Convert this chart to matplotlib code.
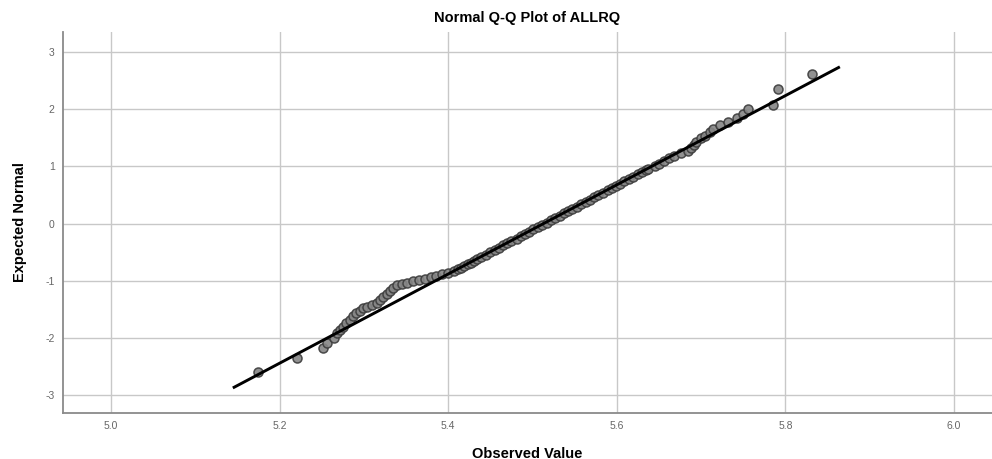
import matplotlib
matplotlib.use("Agg")
from matplotlib import pyplot as plt

observed = [5.174, 5.221, 5.251, 5.256, 5.264, 5.268, 5.271, 5.275, 5.279, 5.283,
            5.287, 5.291, 5.295, 5.299, 5.304, 5.309, 5.315, 5.319, 5.323, 5.327,
            5.331, 5.335, 5.339, 5.345, 5.351, 5.358, 5.365, 5.372, 5.379, 5.386,
            5.393, 5.400,
            5.407, 5.411, 5.415, 5.419, 5.423, 5.427, 5.430, 5.434, 5.439, 5.445,
            5.450, 5.455, 5.460, 5.465, 5.470, 5.475, 5.481, 5.486, 5.491, 5.496,
            5.501, 5.506, 5.511, 5.517, 5.522, 5.527, 5.532, 5.537, 5.542, 5.547,
            5.553, 5.558, 5.563, 5.568, 5.573, 5.578, 5.583, 5.589, 5.594, 5.599,
            5.604, 5.609, 5.614, 5.619, 5.625, 5.630, 5.634, 5.637, 5.645, 5.650,
            5.656, 5.662, 5.668, 5.676, 5.684, 5.688, 5.691, 5.694, 5.700, 5.705,
            5.710, 5.714, 5.722, 5.732, 5.742, 5.750, 5.756, 5.785, 5.791, 5.832]
expected = [-2.60, -2.34, -2.17, -2.09, -1.99, -1.92, -1.86, -1.80, -1.74, -1.68,
            -1.62, -1.57, -1.52, -1.48, -1.45, -1.42, -1.39, -1.34, -1.28, -1.23,
            -1.17, -1.12, -1.08, -1.05, -1.03, -1.01, -0.99, -0.97, -0.94, -0.91,
            -0.88, -0.86,
            -0.83, -0.80, -0.77, -0.74, -0.71, -0.68, -0.65, -0.62, -0.58, -0.54,
            -0.50, -0.46, -0.42, -0.38, -0.34, -0.30, -0.26, -0.22, -0.18, -0.14,
            -0.10, -0.06, -0.02, 0.02, 0.06, 0.10, 0.14, 0.18, 0.22, 0.26,
            0.30, 0.34, 0.38, 0.42, 0.46, 0.50, 0.54, 0.58, 0.62, 0.66,
            0.70, 0.74, 0.78, 0.82, 0.86, 0.90, 0.93, 0.96, 1.01, 1.05,
            1.09, 1.14, 1.19, 1.23, 1.27, 1.33, 1.38, 1.43, 1.49, 1.54,
            1.60, 1.66, 1.72, 1.78, 1.84, 1.92, 2.00, 2.07, 2.36, 2.61]

# reference line end points
line_x = [5.146, 5.863]
line_y = [-2.86, 2.73]

x_ticks = [5.0, 5.2, 5.4, 5.6, 5.8, 6.0]
y_ticks = [-3, -2, -1, 0, 1, 2, 3]

plt.rcParams['font.family'] = ['Liberation Sans', 'DejaVu Sans']
plt.rcParams['axes.unicode_minus'] = False

fig = plt.figure(figsize=(9.92, 4.59), dpi=100)
ax = fig.add_axes([0.0635, 0.1002, 0.9365, 0.830])

ax.grid(True, color='#c8c8c8', linewidth=1.0)
ax.set_axisbelow(True)

ax.plot(observed, expected, 'o', markersize=6.5, markerfacecolor='#858585',
        markeredgecolor='#3c3c3c', markeredgewidth=1.1, alpha=0.9, zorder=3)
ax.plot(line_x, line_y, '-', color='black', linewidth=2.1, zorder=4)

ax.set_xlim(4.943, 6.045)
ax.set_ylim(-3.31, 3.35)
ax.set_xticks(x_ticks)
ax.set_xticklabels(['%.1f' % t for t in x_ticks])
ax.set_yticks(y_ticks)
ax.tick_params(length=0, labelsize=7.5, labelcolor='#666666', pad=6)

for s in ['top', 'right']:
    ax.spines[s].set_visible(False)
for s in ['left', 'bottom']:
    ax.spines[s].set_color('#8a8a8a')
    ax.spines[s].set_linewidth(1.3)

ax.set_xlabel("Observed Value", fontsize=10.5, fontweight='bold', labelpad=11)
ax.set_ylabel("Expected Normal", fontsize=10.5, fontweight='bold', labelpad=13)
ax.set_title("Normal Q-Q Plot of ALLRQ", fontsize=10.5, fontweight='bold', pad=7)

plt.savefig("out.png", dpi=100)
